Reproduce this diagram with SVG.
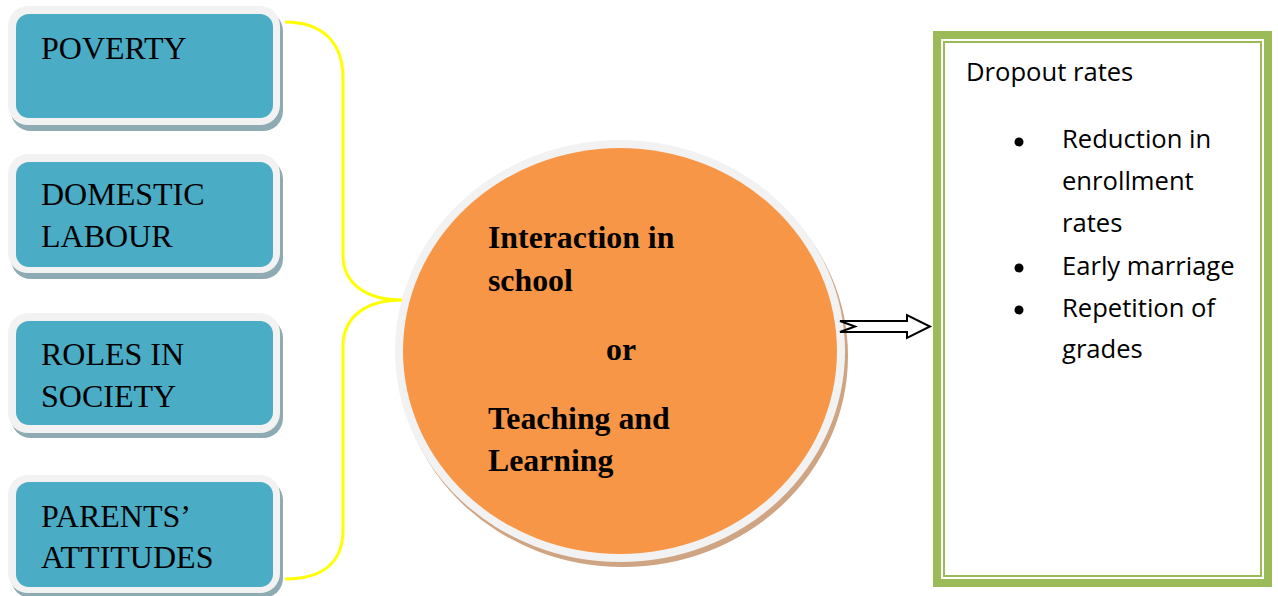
<svg xmlns="http://www.w3.org/2000/svg" width="1278" height="596" viewBox="0 0 1278 596">
<style>
.shadow{fill:#8eaab2}
.rim{fill:#f2f2f2}
.blue{fill:#4bacc6}
.lbl{font-family:"Liberation Serif","Times New Roman",serif;font-size:32px;fill:#000}
.ctr{font-family:"Liberation Serif","Times New Roman",serif;font-size:31.8px;font-weight:bold;fill:#000}
.out{font-family:"Open Sans","Noto Sans",sans-serif;font-size:25.6px;fill:#000}
.conn{fill:none;stroke:#ffff00;stroke-width:3}
</style>
<rect width="1278" height="596" fill="#fff"/>
<g id="poverty">
<rect class="shadow" x="11" y="11" width="272" height="120" rx="20"/>
<rect class="rim" x="8" y="6" width="272" height="119" rx="20"/>
<rect class="blue" x="16" y="14" width="257" height="104" rx="13"/>
<text class="lbl" x="41" y="59">POVERTY</text>
</g>
<g id="domestic">
<rect class="shadow" x="11" y="159" width="272" height="120" rx="20"/>
<rect class="rim" x="8" y="154" width="272" height="119" rx="20"/>
<rect class="blue" x="16" y="162" width="257" height="105" rx="13"/>
<text class="lbl" x="41" y="205">DOMESTIC</text>
<text class="lbl" x="41" y="247">LABOUR</text>
</g>
<g id="roles">
<rect class="shadow" x="11" y="318" width="272" height="120" rx="20"/>
<rect class="rim" x="8" y="313" width="272" height="120" rx="20"/>
<rect class="blue" x="16" y="321" width="257" height="104" rx="13"/>
<text class="lbl" x="41" y="365">ROLES IN</text>
<text class="lbl" x="41" y="407">SOCIETY</text>
</g>
<g id="parents">
<rect class="shadow" x="11" y="480" width="272" height="118" rx="20"/>
<rect class="rim" x="8" y="475" width="272" height="118" rx="20"/>
<rect class="blue" x="16" y="482" width="257" height="105" rx="13"/>
<text class="lbl" x="41" y="527">PARENTS’</text>
<text class="lbl" x="41" y="568">ATTITUDES</text>
</g>
<g id="centre">
<ellipse cx="623" cy="356" rx="225" ry="211" fill="#cfa482"/>
<ellipse cx="620" cy="351" rx="225" ry="211" fill="#f2f2f2"/>
<ellipse cx="620" cy="351" rx="217" ry="203" fill="#f79646"/>
<text class="ctr" x="488" y="248">Interaction in</text>
<text class="ctr" x="488" y="291">school</text>
<text class="ctr" x="606" y="360">or</text>
<text class="ctr" x="488" y="429">Teaching and</text>
<text class="ctr" x="488" y="471">Learning</text>
</g>
<g id="outcome">
<rect x="937" y="35" width="331" height="548" fill="#fff" stroke="#9bbb59" stroke-width="8"/>
<rect x="944" y="42" width="317" height="534" fill="none" stroke="#9bbb59" stroke-width="2"/>
<text class="out" x="966" y="81">Dropout rates</text>
<circle cx="1019" cy="142" r="4.5"/>
<text class="out" x="1062" y="148">Reduction in</text>
<text class="out" x="1062" y="190">enrollment</text>
<text class="out" x="1062" y="232">rates</text>
<circle cx="1019" cy="268" r="4.5"/>
<text class="out" x="1062" y="275">Early marriage</text>
<circle cx="1019" cy="310" r="4.5"/>
<text class="out" x="1062" y="317">Repetition of</text>
<text class="out" x="1062" y="358">grades</text>
</g>
<g id="connectors">
<path class="conn" d="M285,22 C322,22 343,42 343,78 L343,255 C343,285 368,300 402,300 C368,300 343,315 343,347 L343,530 C343,563 322,579 285,579"/>
<path d="M840,321 L907,321 L907,315 L930,326.5 L907,338 L907,332 L840,332 L855,326.5 Z" fill="#fff" stroke="#000" stroke-width="2" stroke-linejoin="miter"/>
</g>
</svg>
